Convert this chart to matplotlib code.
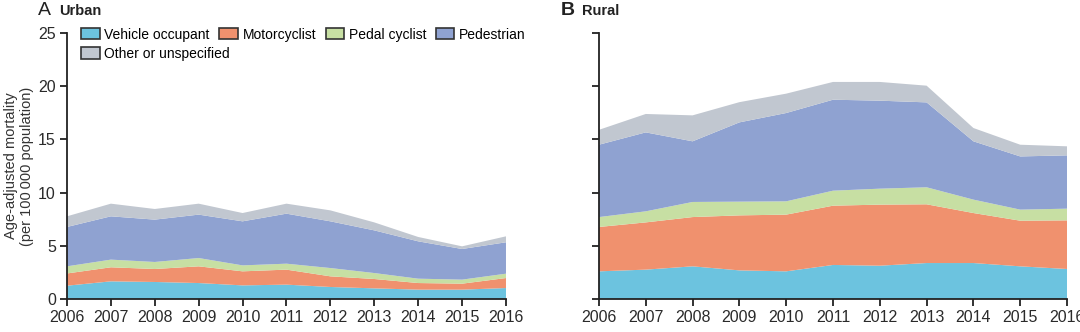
import matplotlib.pyplot as plt
from matplotlib.patches import Patch

years = list(range(2006, 2017))
categories = ["Vehicle occupant", "Motorcyclist", "Pedal cyclist", "Pedestrian", "Other or unspecified"]
colors = ["#6cc3df", "#f0916e", "#c7dfa3", "#8fa2d1", "#c1c7d0"]

# urban mortality per 100 000, by road-user type
urban_vehicle = [1.25, 1.66, 1.60, 1.50, 1.28, 1.35, 1.13, 1.00, 0.88, 0.88, 1.03]
urban_motor = [1.15, 1.32, 1.22, 1.57, 1.32, 1.41, 1.00, 0.88, 0.62, 0.56, 0.94]
urban_pedal = [0.67, 0.72, 0.66, 0.78, 0.56, 0.56, 0.78, 0.56, 0.41, 0.38, 0.41]
urban_ped = [3.70, 4.07, 3.98, 4.08, 4.14, 4.70, 4.39, 4.01, 3.51, 2.88, 2.95]
urban_other = [1.00, 1.19, 1.00, 1.03, 0.78, 0.94, 1.03, 0.75, 0.41, 0.25, 0.56]

# rural mortality per 100 000, by road-user type
rural_vehicle = [2.60, 2.76, 3.07, 2.69, 2.60, 3.20, 3.13, 3.38, 3.38, 3.07, 2.82]
rural_motor = [4.17, 4.44, 4.63, 5.17, 5.33, 5.57, 5.74, 5.52, 4.70, 4.29, 4.57]
rural_pedal = [0.93, 1.04, 1.42, 1.29, 1.25, 1.41, 1.50, 1.60, 1.26, 1.04, 1.10]
rural_ped = [6.80, 7.42, 5.70, 7.45, 8.30, 8.55, 8.27, 7.98, 5.48, 5.00, 5.01]
rural_other = [1.40, 1.73, 2.44, 1.90, 1.82, 1.67, 1.76, 1.57, 1.25, 1.10, 0.85]

urban = [urban_vehicle, urban_motor, urban_pedal, urban_ped, urban_other]
rural = [rural_vehicle, rural_motor, rural_pedal, rural_ped, rural_other]

plt.rcParams["font.family"] = ["Liberation Sans", "DejaVu Sans"]

fig = plt.figure(figsize=(10.8, 3.32), dpi=100)
ax1 = fig.add_axes([0.062, 0.0994, 0.4065, 0.8012])
ax2 = fig.add_axes([0.5546, 0.0994, 0.4334, 0.8012])

for ax, data in [(ax1, urban), (ax2, rural)]:
    ax.stackplot(years, *data, colors=colors, linewidth=0)
    ax.set_xlim(2006, 2016)
    ax.set_ylim(0, 25)
    ax.set_xticks(years)
    ax.set_yticks([0, 5, 10, 15, 20, 25])
    for s in ["top", "right"]:
        ax.spines[s].set_visible(False)
    for s in ["left", "bottom"]:
        ax.spines[s].set_linewidth(1.3)
        ax.spines[s].set_color("#222222")
    ax.tick_params(direction="out", length=5, width=1.3, color="#222222",
                   labelsize=11.5, labelcolor="#2a2a2a", pad=3)

ax2.set_yticklabels([])
ax1.set_ylabel("Age-adjusted mortality\n(per 100\u2009000 population)",
               fontsize=10.5, color="#333333", linespacing=1.15)
ax1.yaxis.set_label_coords(-0.075, 0.5)

fig.text(0.035, 0.968, "A", fontsize=14, color="#222222", va="center")
fig.text(0.055, 0.968, "Urban", fontsize=10.5, fontweight="bold", color="#222222", va="center")
fig.text(0.519, 0.968, "B", fontsize=14, fontweight="bold", color="#222222", va="center")
fig.text(0.539, 0.968, "Rural", fontsize=10.5, fontweight="bold", color="#222222", va="center")

handles = [Patch(facecolor=c, edgecolor="#333333", linewidth=1.2) for c in colors]
leg_opts = dict(loc="upper left", frameon=False, fontsize=10, handlelength=1.3,
                handleheight=0.85, handletextpad=0.35, borderaxespad=0, borderpad=0)

# first row: the four main road-user types
leg1 = ax1.legend(handles[:4], categories[:4], ncol=4, bbox_to_anchor=(0.033, 1.02),
                  columnspacing=0.7, **leg_opts)
ax1.add_artist(leg1)
# second row: other or unspecified
ax1.legend(handles[4:], categories[4:], bbox_to_anchor=(0.033, 0.948), **leg_opts)

fig.savefig("out.png", dpi=100)
